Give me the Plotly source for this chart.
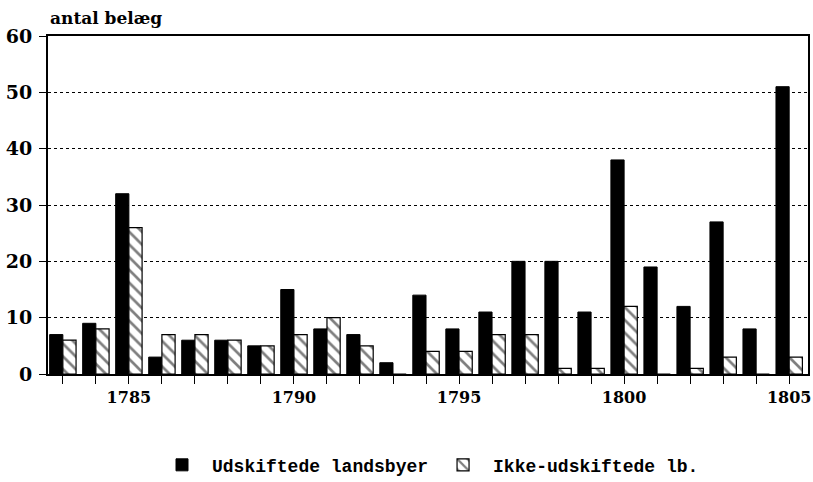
import plotly.graph_objects as go

years = list(range(1783, 1806))
udskiftede = [7, 9, 32, 3, 6, 6, 5, 15, 8, 7, 2, 14, 8, 11, 20, 20, 11, 38, 19, 12, 27, 8, 51]
ikke_udskiftede = [6, 8, 26, 7, 7, 6, 5, 7, 10, 5, 0, 4, 4, 7, 7, 1, 1, 12, 0, 1, 3, 0, 3]
tick_labels = [str(y) if y % 5 == 0 else "" for y in years]
y_ticks = [0, 10, 20, 30, 40, 50, 60]

fig = go.Figure()
fig.add_trace(go.Bar(
    x=years, y=udskiftede, name="Udskiftede landsbyer",
    marker=dict(color="black", line=dict(color="black", width=1)),
))
fig.add_trace(go.Bar(
    x=years, y=ikke_udskiftede, name="Ikke-udskiftede lb.",
    marker=dict(color="white", line=dict(color="black", width=1.2),
                pattern=dict(shape="\\", fgcolor="black", bgcolor="white", size=9, solidity=0.3)),
))

fig.update_layout(
    width=813, height=482,
    margin=dict(l=48, r=5, t=36, b=108, autoexpand=False),
    paper_bgcolor="white", plot_bgcolor="white",
    barmode="group", bargap=0.2, bargroupgap=0.0,
    font=dict(family="DejaVu Serif", color="black", size=15),
    showlegend=True,
    legend=dict(orientation="h", x=0.5, xanchor="center",
                yref="container", y=0.035, yanchor="middle",
                font=dict(family="Liberation Mono", size=18, color="black", weight="bold"),
                itemwidth=50, tracegroupgap=0),
    annotations=[dict(text="<b>antal belæg</b>", xref="paper", yref="paper",
                      x=0, y=1.0, xanchor="left", yanchor="bottom", yshift=6,
                      showarrow=False, font=dict(family="DejaVu Serif", size=17))],
)
fig.update_xaxes(
    range=[1782.55, 1805.57], tickmode="array", tickvals=years, ticktext=tick_labels,
    ticks="outside", ticklen=8, tickcolor="black", tickwidth=1,
    showline=True, linecolor="black", linewidth=2, mirror=True,
    showgrid=False, zeroline=False, ticklabeloverflow="allow",
    tickfont=dict(family="DejaVu Serif", size=16, weight="bold"),
)
fig.update_yaxes(
    range=[0, 60], tickmode="array", tickvals=y_ticks,
    ticks="outside", ticklen=7, tickcolor="black", ticklabelstandoff=3,
    showline=True, linecolor="black", linewidth=2, mirror=True,
    showgrid=True, gridcolor="black", gridwidth=1, griddash="dot",
    zeroline=False,
    tickfont=dict(family="DejaVu Serif", size=19, weight="bold"),
)
fig.write_html("out.html", config={"displayModeBar": False},
               post_script="document.body.style.margin='0';document.body.style.overflow='hidden';")
